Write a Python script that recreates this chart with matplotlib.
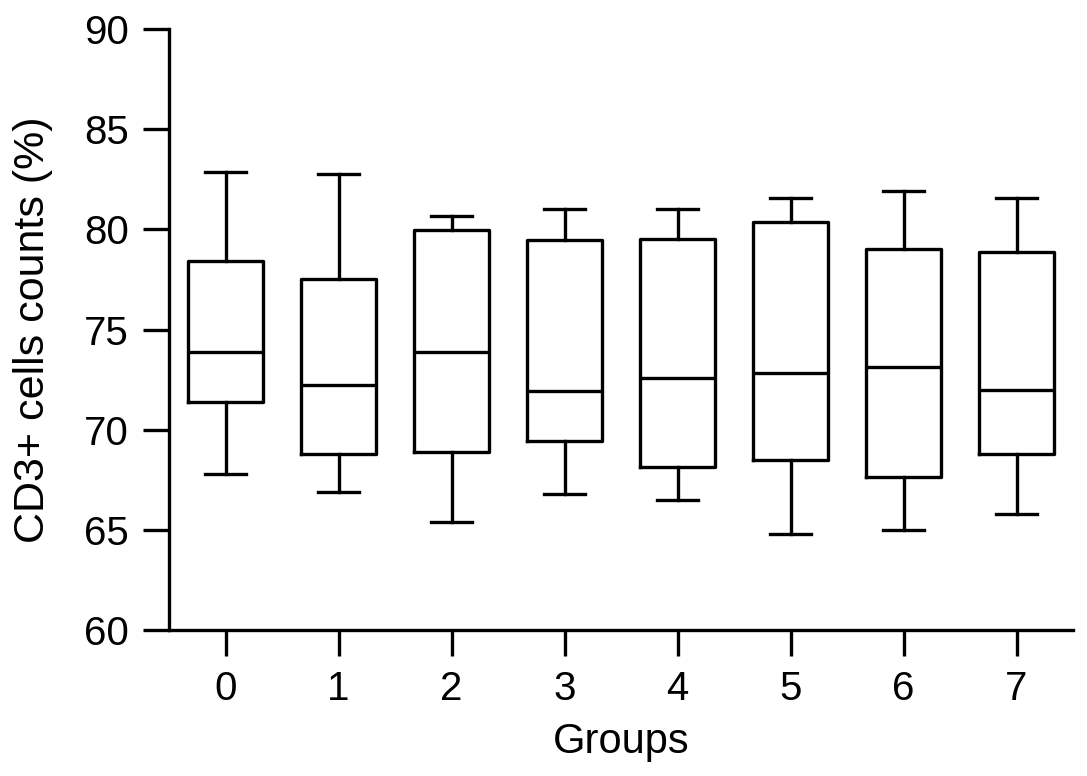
import matplotlib
matplotlib.use("Agg")
import matplotlib.pyplot as plt

plt.rcParams['font.family'] = ['Liberation Sans', 'DejaVu Sans']

groups = ["0", "1", "2", "3", "4", "5", "6", "7"]
whisker_low = [67.8, 66.9, 65.4, 66.8, 66.5, 64.8, 65.0, 65.8]
q1 = [71.4, 68.8, 68.9, 69.45, 68.15, 68.5, 67.65, 68.8]
median = [73.9, 72.25, 73.9, 71.95, 72.6, 72.85, 73.15, 72.0]
q3 = [78.4, 77.5, 79.95, 79.45, 79.5, 80.35, 79.0, 78.85]
whisker_high = [82.85, 82.75, 80.65, 81.0, 81.0, 81.55, 81.9, 81.55]

fig = plt.figure(figsize=(10.87, 7.76), dpi=100)
ax = fig.add_axes([169/1087, 1-630/776, (1073-169)/1087, (630-29)/776])

stats = []
for g, lo, a, m, b, hi in zip(groups, whisker_low, q1, median, q3, whisker_high):
    stats.append(dict(label=g, whislo=lo, q1=a, med=m, q3=b, whishi=hi, fliers=[]))

lw = 2.4
ax.bxp(stats, positions=range(len(groups)), widths=0.67, capwidths=0.36,
       showfliers=False, patch_artist=False,
       boxprops=dict(color='black', linewidth=lw),
       whiskerprops=dict(color='black', linewidth=lw),
       capprops=dict(color='black', linewidth=lw),
       medianprops=dict(color='black', linewidth=lw))

ax.set_xlim(-0.5, len(groups) - 0.5)
ax.set_ylim(60, 90)
ax.set_yticks([60, 65, 70, 75, 80, 85, 90])
ax.set_xticks(range(len(groups)))
ax.set_xticklabels(groups)

for s in ['top', 'right']:
    ax.spines[s].set_visible(False)
for s in ['left', 'bottom']:
    ax.spines[s].set_linewidth(lw)

ax.tick_params(axis='both', direction='out', length=19, width=lw, labelsize=29, pad=10)

ax.set_ylabel("CD3+ cells counts (%)", fontsize=31, labelpad=22)
ax.set_xlabel("Groups", fontsize=30, labelpad=10)

fig.savefig("out.png", dpi=100)
